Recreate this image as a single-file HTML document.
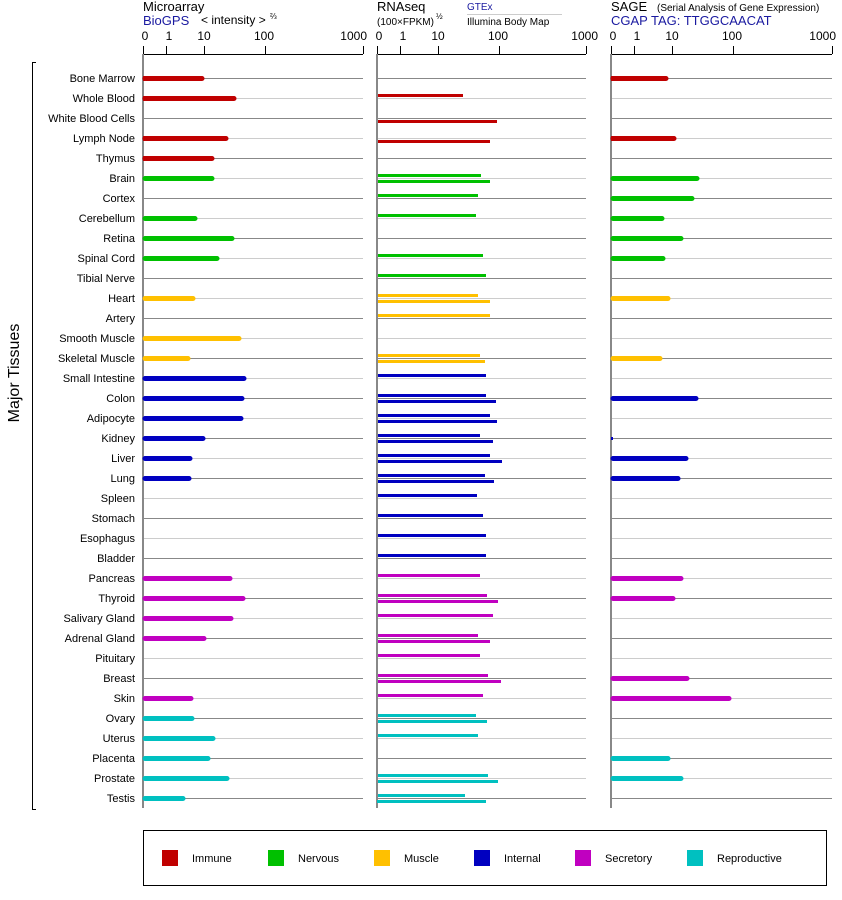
<!DOCTYPE html>
<html><head><meta charset="utf-8"><style>
html,body{margin:0;padding:0;background:#fff;}
svg{display:block;font-family:"Liberation Sans",Arial,sans-serif;}
</style></head><body>
<svg width="842" height="900" viewBox="0 0 842 900" xmlns="http://www.w3.org/2000/svg">
<!-- headers -->
<text x="143" y="11" font-size="13" fill="#000">Microarray</text>
<text x="143" y="25" font-size="13" fill="#1a1aa0">BioGPS</text>
<text x="201" y="24" font-size="12" fill="#000">&lt; intensity &gt;</text>
<text x="270" y="19" font-size="8" fill="#000">⅔</text>
<text x="377" y="11" font-size="13" fill="#000">RNAseq</text>
<text x="377" y="25" font-size="10" fill="#000">(100×FPKM)</text>
<text x="436" y="19" font-size="8" fill="#000">½</text>
<text x="467" y="10" font-size="10" fill="#1a1aa0">GTEx</text>
<line x1="467" y1="14.5" x2="562" y2="14.5" stroke="#ccc"/>
<text x="467" y="25" font-size="10" fill="#000">Illumina Body Map</text>
<text x="611" y="11" font-size="13" fill="#000">SAGE</text>
<text x="657" y="11" font-size="10" fill="#000">(Serial Analysis of Gene Expression)</text>
<text x="611" y="25" font-size="13" fill="#1a1aa0">CGAP TAG: TTGGCAACAT</text>
<!-- tick labels -->
<g font-size="12" fill="#000" text-anchor="middle">
<text x="145" y="40">0</text><text x="169" y="40">1</text><text x="204" y="40">10</text><text x="264" y="40">100</text><text x="367" y="40" text-anchor="end">1000</text>
<text x="379" y="40">0</text><text x="403" y="40">1</text><text x="438" y="40">10</text><text x="498" y="40">100</text><text x="598" y="40" text-anchor="end">1000</text>
<text x="613" y="40">0</text><text x="637" y="40">1</text><text x="672" y="40">10</text><text x="732" y="40">100</text><text x="836" y="40" text-anchor="end">1000</text>
</g>
<!-- axes -->
<g stroke="#000" stroke-width="1" fill="none">
<path d="M143 54.5H363M143.5 46V54M166.5 46V54M204.5 46V54M265.5 46V54M363.5 46V54"/>
<path d="M377 54.5H586M377.5 46V54M400.5 46V54M438.5 46V54M499.5 46V54M586.5 46V54"/>
<path d="M611 54.5H832M611.5 46V54M634.5 46V54M672.5 46V54M733.5 46V54M832.5 46V54"/>
</g>
<!-- gridlines -->
<path stroke="#888" stroke-width="1" fill="none" d="M143 78.5H363M377 78.5H586M611 78.5H832M143 118.5H363M377 118.5H586M611 118.5H832M143 158.5H363M377 158.5H586M611 158.5H832M143 198.5H363M377 198.5H586M611 198.5H832M143 238.5H363M377 238.5H586M611 238.5H832M143 278.5H363M377 278.5H586M611 278.5H832M143 318.5H363M377 318.5H586M611 318.5H832M143 358.5H363M377 358.5H586M611 358.5H832M143 398.5H363M377 398.5H586M611 398.5H832M143 438.5H363M377 438.5H586M611 438.5H832M143 478.5H363M377 478.5H586M611 478.5H832M143 518.5H363M377 518.5H586M611 518.5H832M143 558.5H363M377 558.5H586M611 558.5H832M143 598.5H363M377 598.5H586M611 598.5H832M143 638.5H363M377 638.5H586M611 638.5H832M143 678.5H363M377 678.5H586M611 678.5H832M143 718.5H363M377 718.5H586M611 718.5H832M143 758.5H363M377 758.5H586M611 758.5H832M143 798.5H363M377 798.5H586M611 798.5H832"/>
<path stroke="#ccc" stroke-width="1" fill="none" d="M143 98.5H363M377 98.5H586M611 98.5H832M143 138.5H363M377 138.5H586M611 138.5H832M143 178.5H363M377 178.5H586M611 178.5H832M143 218.5H363M377 218.5H586M611 218.5H832M143 258.5H363M377 258.5H586M611 258.5H832M143 298.5H363M377 298.5H586M611 298.5H832M143 338.5H363M377 338.5H586M611 338.5H832M143 378.5H363M377 378.5H586M611 378.5H832M143 418.5H363M377 418.5H586M611 418.5H832M143 458.5H363M377 458.5H586M611 458.5H832M143 498.5H363M377 498.5H586M611 498.5H832M143 538.5H363M377 538.5H586M611 538.5H832M143 578.5H363M377 578.5H586M611 578.5H832M143 618.5H363M377 618.5H586M611 618.5H832M143 658.5H363M377 658.5H586M611 658.5H832M143 698.5H363M377 698.5H586M611 698.5H832M143 738.5H363M377 738.5H586M611 738.5H832M143 778.5H363M377 778.5H586M611 778.5H832"/>
<path stroke="#888" stroke-width="2" fill="none" d="M143 54V808M377 54V808M611 54V808"/>
<!-- microarray & SAGE bars (thick, rounded end) -->
<g stroke-width="5" stroke-linecap="round" fill="none">
<path stroke="#c00000" d="M145 78.5H202M145 98.5H234M145 138.5H226M145 158.5H212M613 78.5H666M613 138.5H674"/>
<path stroke="#00c000" d="M145 178.5H212M145 218.5H195M145 238.5H232M145 258.5H217M613 178.5H697M613 198.5H692M613 218.5H662M613 238.5H681M613 258.5H663"/>
<path stroke="#ffc000" d="M145 298.5H193M145 338.5H239M145 358.5H188M613 298.5H668M613 358.5H660"/>
<path stroke="#0000c0" d="M145 378.5H244M145 398.5H242M145 418.5H241M145 438.5H203M145 458.5H190M145 478.5H189M613 398.5H696M613 458.5H686M613 478.5H678"/>
<path stroke="#c000c0" d="M145 578.5H230M145 598.5H243M145 618.5H231M145 638.5H204M145 698.5H191M613 578.5H681M613 598.5H673M613 678.5H687M613 698.5H729"/>
<path stroke="#00c0c0" d="M145 718.5H192M145 738.5H213M145 758.5H208M145 778.5H227M145 798.5H183M613 758.5H668M613 778.5H681"/>
</g>
<rect x="611" y="437" width="2" height="3" fill="#0000c0"/>
<g stroke="none">
<rect x="143" y="76" width="4" height="5" fill="#c00000"/><rect x="143" y="96" width="4" height="5" fill="#c00000"/><rect x="143" y="136" width="4" height="5" fill="#c00000"/><rect x="143" y="156" width="4" height="5" fill="#c00000"/>
<rect x="611" y="76" width="4" height="5" fill="#c00000"/><rect x="611" y="136" width="4" height="5" fill="#c00000"/>
</g>
<!-- RNAseq bars -->
<g fill="#c00000"><rect x="378" y="94" width="85" height="3"/><rect x="378" y="120" width="119" height="3"/><rect x="378" y="140" width="112" height="3"/></g>
<g fill="#00c000"><rect x="378" y="174" width="103" height="3"/><rect x="378" y="180" width="112" height="3"/><rect x="378" y="194" width="100" height="3"/><rect x="378" y="214" width="98" height="3"/><rect x="378" y="254" width="105" height="3"/><rect x="378" y="274" width="108" height="3"/></g>
<g fill="#ffc000"><rect x="378" y="294" width="100" height="3"/><rect x="378" y="300" width="112" height="3"/><rect x="378" y="314" width="112" height="3"/><rect x="378" y="354" width="102" height="3"/><rect x="378" y="360" width="107" height="3"/></g>
<g fill="#0000c0"><rect x="378" y="374" width="108" height="3"/><rect x="378" y="394" width="108" height="3"/><rect x="378" y="400" width="118" height="3"/><rect x="378" y="414" width="112" height="3"/><rect x="378" y="420" width="119" height="3"/><rect x="378" y="434" width="102" height="3"/><rect x="378" y="440" width="115" height="3"/><rect x="378" y="454" width="112" height="3"/><rect x="378" y="460" width="124" height="3"/><rect x="378" y="474" width="107" height="3"/><rect x="378" y="480" width="116" height="3"/><rect x="378" y="494" width="99" height="3"/><rect x="378" y="514" width="105" height="3"/><rect x="378" y="534" width="108" height="3"/><rect x="378" y="554" width="108" height="3"/></g>
<g fill="#c000c0"><rect x="378" y="574" width="102" height="3"/><rect x="378" y="594" width="109" height="3"/><rect x="378" y="600" width="120" height="3"/><rect x="378" y="614" width="115" height="3"/><rect x="378" y="634" width="100" height="3"/><rect x="378" y="640" width="112" height="3"/><rect x="378" y="654" width="102" height="3"/><rect x="378" y="674" width="110" height="3"/><rect x="378" y="680" width="123" height="3"/><rect x="378" y="694" width="105" height="3"/></g>
<g fill="#00c0c0"><rect x="378" y="714" width="98" height="3"/><rect x="378" y="720" width="109" height="3"/><rect x="378" y="734" width="100" height="3"/><rect x="378" y="774" width="110" height="3"/><rect x="378" y="780" width="120" height="3"/><rect x="378" y="794" width="87" height="3"/><rect x="377" y="800" width="109" height="3"/></g>
<!-- row labels -->
<g font-size="11" fill="#000" text-anchor="end">
<text x="135" y="82">Bone Marrow</text><text x="135" y="102">Whole Blood</text><text x="135" y="122">White Blood Cells</text><text x="135" y="142">Lymph Node</text><text x="135" y="162">Thymus</text><text x="135" y="182">Brain</text><text x="135" y="202">Cortex</text><text x="135" y="222">Cerebellum</text><text x="135" y="242">Retina</text><text x="135" y="262">Spinal Cord</text><text x="135" y="282">Tibial Nerve</text><text x="135" y="302">Heart</text><text x="135" y="322">Artery</text><text x="135" y="342">Smooth Muscle</text><text x="135" y="362">Skeletal Muscle</text><text x="135" y="382">Small Intestine</text><text x="135" y="402">Colon</text><text x="135" y="422">Adipocyte</text><text x="135" y="442">Kidney</text><text x="135" y="462">Liver</text><text x="135" y="482">Lung</text><text x="135" y="502">Spleen</text><text x="135" y="522">Stomach</text><text x="135" y="542">Esophagus</text><text x="135" y="562">Bladder</text><text x="135" y="582">Pancreas</text><text x="135" y="602">Thyroid</text><text x="135" y="622">Salivary Gland</text><text x="135" y="642">Adrenal Gland</text><text x="135" y="662">Pituitary</text><text x="135" y="682">Breast</text><text x="135" y="702">Skin</text><text x="135" y="722">Ovary</text><text x="135" y="742">Uterus</text><text x="135" y="762">Placenta</text><text x="135" y="782">Prostate</text><text x="135" y="802">Testis</text>
</g>
<!-- bracket -->
<path d="M36 62.5H32.5V809.5H36" stroke="#000" fill="none"/>
<text x="0" y="0" font-size="16" fill="#000" text-anchor="middle" transform="translate(19,373) rotate(-90)">Major Tissues</text>
<!-- legend -->
<rect x="143.5" y="830.5" width="683" height="55" fill="none" stroke="#000"/>
<g font-size="11" fill="#000">
<rect x="162" y="850" width="16" height="16" fill="#c00000"/><text x="192" y="862">Immune</text>
<rect x="268" y="850" width="16" height="16" fill="#00c000"/><text x="298" y="862">Nervous</text>
<rect x="374" y="850" width="16" height="16" fill="#ffc000"/><text x="404" y="862">Muscle</text>
<rect x="474" y="850" width="16" height="16" fill="#0000c0"/><text x="504" y="862">Internal</text>
<rect x="575" y="850" width="16" height="16" fill="#c000c0"/><text x="605" y="862">Secretory</text>
<rect x="687" y="850" width="16" height="16" fill="#00c0c0"/><text x="717" y="862">Reproductive</text>
</g>
</svg>
</body></html>
